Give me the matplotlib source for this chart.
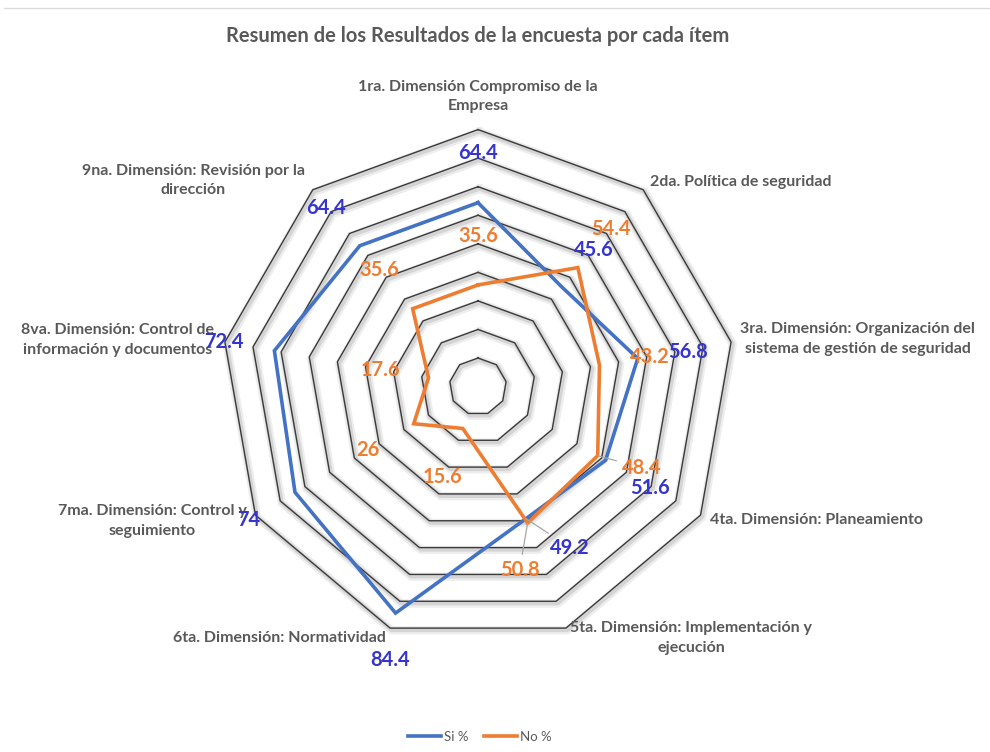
import numpy as np
import matplotlib
matplotlib.use("Agg")
import matplotlib.pyplot as plt
import matplotlib.patheffects as pe
from matplotlib.lines import Line2D

# ---------------- data ----------------
title = "Resumen de los Resultados de la encuesta por cada ítem"
categories = [
    "1ra. Dimensión Compromiso de la\nEmpresa",
    "2da. Política de seguridad",
    "3ra. Dimensión: Organización del\nsistema de gestión de seguridad",
    "4ta. Dimensión: Planeamiento",
    "5ta. Dimensión: Implementación y\nejecución",
    "6ta. Dimensión: Normatividad",
    "7ma. Dimensión: Control y\nseguimiento",
    "8va. Dimensión: Control de\ninformación y documentos",
    "9na. Dimensión: Revisión por la\ndirección",
]
si_values = [64.4, 45.6, 56.8, 51.6, 49.2, 84.4, 74, 72.4, 64.4]
no_values = [35.6, 54.4, 43.2, 48.4, 50.8, 15.6, 26, 17.6, 35.6]
series_names = ["Si %", "No %"]
ring_values = [10, 20, 30, 40, 50, 60, 70, 80, 90]
r_max = 90

# ---------------- style ----------------
FONT = ["Lato", "DejaVu Sans"]
plt.rcParams["font.family"] = FONT
GRAY_TXT = "#595959"
BLUE = "#4472C4"
ORANGE = "#ED7D31"
BLUE_LBL = "#3535CC"

W, H, DPI = 990, 752, 100
fig = plt.figure(figsize=(W / DPI, H / DPI), dpi=DPI)
fig.patch.set_facecolor("white")

# top border line of the chart area
fig.add_artist(Line2D([4 / W, 1.0], [1 - 7.5 / H, 1 - 7.5 / H],
                      transform=fig.transFigure, color="#D9D9D9", lw=0.9))

cx, cy, R = 478, 386.6, 257
ax = fig.add_axes([(cx - R) / W, 1 - (cy + R) / H, 2 * R / W, 2 * R / H],
                  projection="polar")
ax.set_theta_zero_location("N")
ax.set_theta_direction(-1)
ax.set_ylim(0, r_max)
ax.set_axis_off()

n = len(categories)
theta = np.deg2rad(np.arange(n) * 360.0 / n)
theta_c = np.append(theta, theta[0])

shadow = [pe.SimpleLineShadow(offset=(1.2, -1.6), shadow_color="#000000", alpha=0.07, linewidth=6),
          pe.SimpleLineShadow(offset=(1.0, -1.3), shadow_color="#000000", alpha=0.10, linewidth=3.2),
          pe.Normal()]
for rv in ring_values:
    ax.plot(theta_c, [rv] * (n + 1), color="#3A3A3A", lw=1.0, clip_on=False,
            path_effects=shadow, zorder=2)

si_c = si_values + si_values[:1]
no_c = no_values + no_values[:1]
ax.plot(theta_c, si_c, color=BLUE, lw=2.6, clip_on=False, zorder=4,
        solid_joinstyle="miter", label=series_names[0])
ax.plot(theta_c, no_c, color=ORANGE, lw=2.6, clip_on=False, zorder=5,
        solid_joinstyle="miter", label=series_names[1])

# category labels (offsets in pixels, image-down convention)
cat_off = [(0, -33, "center"), (7, -8, "left"), (9, -3, "left"), (9, 5, "left"),
           (4, 10, "left"), (-4, 10, "right"), (-9, 6, "right"), (-11, -2, "right"),
           (-8, -9, "right")]
for t, lab, (dx, dy, ha) in zip(theta, categories, cat_off):
    ax.annotate(lab, xy=(t, r_max), xytext=(dx, -dy), textcoords="offset pixels",
                ha=ha, va="center", multialignment="center", fontsize=11.5,
                linespacing=1.5, fontweight="bold", color=GRAY_TXT,
                annotation_clip=False, zorder=6)

# data labels
si_off = [(0, -50), (32, -37), (50, -6), (44, 28), (44, 29), (-6, 47), (-46, 28), (-51, -9), (-34, -38)]
no_off = [(0, -49), (33, -39), (50, -8), (44, 12), (-8, 47), (-20, 49), (-46, 26), (-48, -8), (-33, -39)]
si_lead = [False, False, False, False, True, False, False, False, False]
no_lead = [False, False, False, True, True, False, False, False, False]


def fmt(v):
    return ("%g" % v)


for vals, offs, leads, col in ((si_values, si_off, si_lead, BLUE_LBL),
                               (no_values, no_off, no_lead, ORANGE)):
    for t, v, (dx, dy), ld in zip(theta, vals, offs, leads):
        kw = {}
        if ld:
            kw["arrowprops"] = dict(arrowstyle="-", color="#A6A6A6", lw=0.9,
                                    shrinkA=2, shrinkB=0)
        ax.annotate(fmt(v), xy=(t, v), xytext=(dx, -dy), textcoords="offset pixels",
                    ha="center", va="center", fontsize=14.5, fontweight="bold",
                    color=col, annotation_clip=False, zorder=7, **kw)

fig.text(478 / W, 1 - 36 / H, title, ha="center", va="center", fontsize=14.5,
         fontweight="bold", color=GRAY_TXT)

handles = [Line2D([], [], color=BLUE, lw=2.6), Line2D([], [], color=ORANGE, lw=2.6)]
fig.legend(handles, series_names, loc="center", bbox_to_anchor=(480 / W, 1 - 737 / H),
           ncol=2, frameon=False, fontsize=9.5, labelcolor=GRAY_TXT, handlelength=2.5,
           handletextpad=0.2, columnspacing=1.2)

fig.savefig("out.png", dpi=DPI, facecolor="white")
